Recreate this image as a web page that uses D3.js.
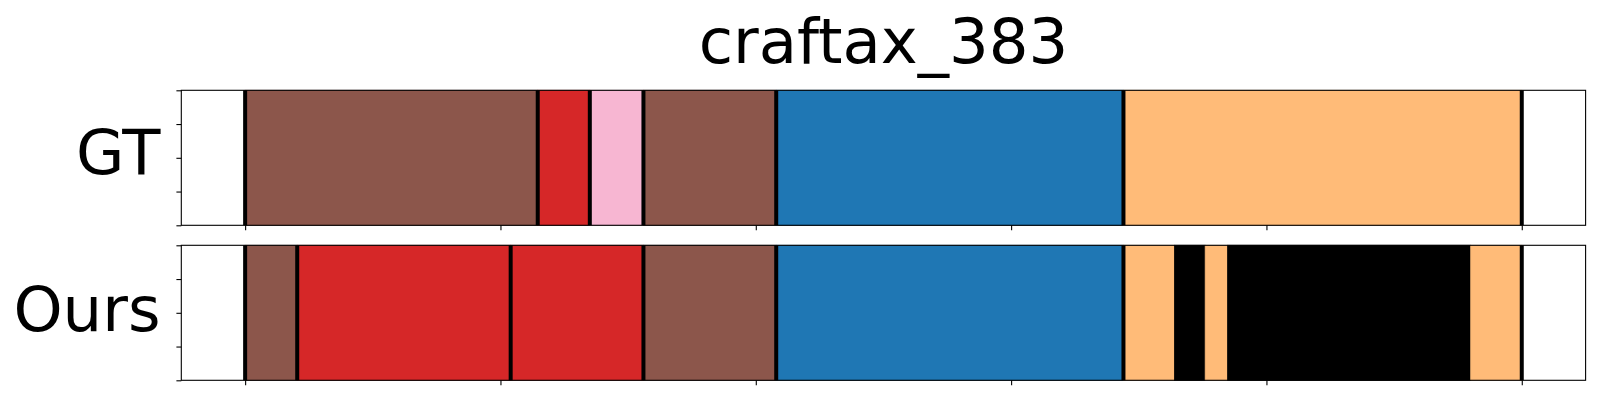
<!DOCTYPE html>
<html>
<head>
<meta charset="utf-8">
<script src="https://cdn.jsdelivr.net/npm/d3@7"></script>
<style>
  html, body { margin: 0; padding: 0; background: #fff; }
  svg { display: block; }
  text { font-family: "DejaVu Sans", sans-serif; fill: #000; }
</style>
</head>
<body>
<svg id="chart" width="1600" height="400"></svg>
<script>
// ---- data ----
const title = "craftax_383";
const rowNames = ["GT", "Ours"];
const gtStarts = [0, 57.3, 67.5, 78, 104, 172];
const gtEnds   = [57.3, 67.5, 78, 104, 172, 250];
const gtClasses = [10, 6, 13, 10, 0, 3];
const gtBoundaries = [0, 57.3, 67.5, 78, 104, 172, 250];
const oursStarts = [0, 10.2, 52, 78, 104, 172, 182, 188, 192.4, 240];
const oursEnds   = [10.2, 52, 78, 104, 172, 182, 188, 192.4, 240, 250];
const oursClasses = [10, 6, 6, 10, 0, 3, -1, 3, -1, 3];
const oursBoundaries = [0, 10.2, 52, 78, 104, 172, 250];
const xTicks = [0, 50, 100, 150, 200, 250];
const yTicks = [0, 0.25, 0.5, 0.75, 1];
const palette = [
  "#1f77b4","#aec7e8","#ff7f0e","#ffbb78","#2ca02c","#98df8a","#d62728","#ff9896",
  "#9467bd","#c5b0d5","#8c564b","#c49c94","#e377c2","#f7b6d2","#7f7f7f","#c7c7c7",
  "#bcbd22","#dbdb8d","#17becf","#9edae5"];

// ---- layout ----
const axLeft = 181.3, axRight = 1585.6;
const panels = [
  { name: rowNames[0], top: 90.3, bottom: 225.3, starts: gtStarts, ends: gtEnds, classes: gtClasses, bounds: gtBoundaries, labelY: 174 },
  { name: rowNames[1], top: 245.3, bottom: 380.3, starts: oursStarts, ends: oursEnds, classes: oursClasses, bounds: oursBoundaries, labelY: 331 }
];

const colorScale = d3.scaleOrdinal().domain(d3.range(20)).range(palette);
const colorOf = c => c < 0 ? "#000000" : colorScale(c);

const x = d3.scaleLinear().domain([-12.5, 262.5]).range([axLeft, axRight]);

const svg = d3.select("#chart");

svg.append("text")
  .attr("x", (axLeft + axRight) / 2)
  .attr("y", 63)
  .attr("text-anchor", "middle")
  .style("font-size", "62.5px")
  .text(title);

panels.forEach(p => {
  const y = d3.scaleLinear().domain([0, 1]).range([p.bottom, p.top]);
  const g = svg.append("g");
  const segs = p.starts.map((s, i) => ({ s, e: p.ends[i], c: p.classes[i] }));
  g.selectAll("rect.seg").data(segs).enter().append("rect")
    .attr("class", "seg")
    .attr("x", d => x(d.s))
    .attr("width", d => x(d.e) - x(d.s))
    .attr("y", y(1))
    .attr("height", y(0) - y(1))
    .attr("fill", d => colorOf(d.c))
    .attr("stroke", d => d.c < 0 ? "#000" : d3.color(colorOf(d.c)).darker(0.25))
    .attr("stroke-width", 0.8);

  g.selectAll("line.bound").data(p.bounds).enter().append("line")
    .attr("class", "bound")
    .attr("x1", d => x(d)).attr("x2", d => x(d))
    .attr("y1", y(1)).attr("y2", y(0))
    .attr("stroke", "#000")
    .attr("stroke-width", 4);

  g.append("rect")
    .attr("x", axLeft).attr("y", p.top)
    .attr("width", axRight - axLeft).attr("height", p.bottom - p.top)
    .attr("fill", "none").attr("stroke", "#000").attr("stroke-width", 1.1);

  const xAxis = d3.axisBottom(x).tickValues(xTicks).tickFormat("").tickSize(4.9).tickSizeOuter(0);
  const gx = g.append("g").attr("transform", `translate(0,${p.bottom})`).call(xAxis);
  gx.select(".domain").remove();
  gx.selectAll(".tick line").attr("stroke", "#000").attr("stroke-width", 1.1);

  const yAxis = d3.axisLeft(y).tickValues(yTicks).tickFormat("").tickSize(4.9).tickSizeOuter(0);
  const gy = g.append("g").attr("transform", `translate(${axLeft},0)`).call(yAxis);
  gy.select(".domain").remove();
  gy.selectAll(".tick line").attr("stroke", "#000").attr("stroke-width", 1.1);

  svg.append("text")
    .attr("x", 160.5)
    .attr("y", p.labelY)
    .attr("text-anchor", "end")
    .style("font-size", "62.5px")
    .text(p.name);
});
</script>
</body>
</html>
